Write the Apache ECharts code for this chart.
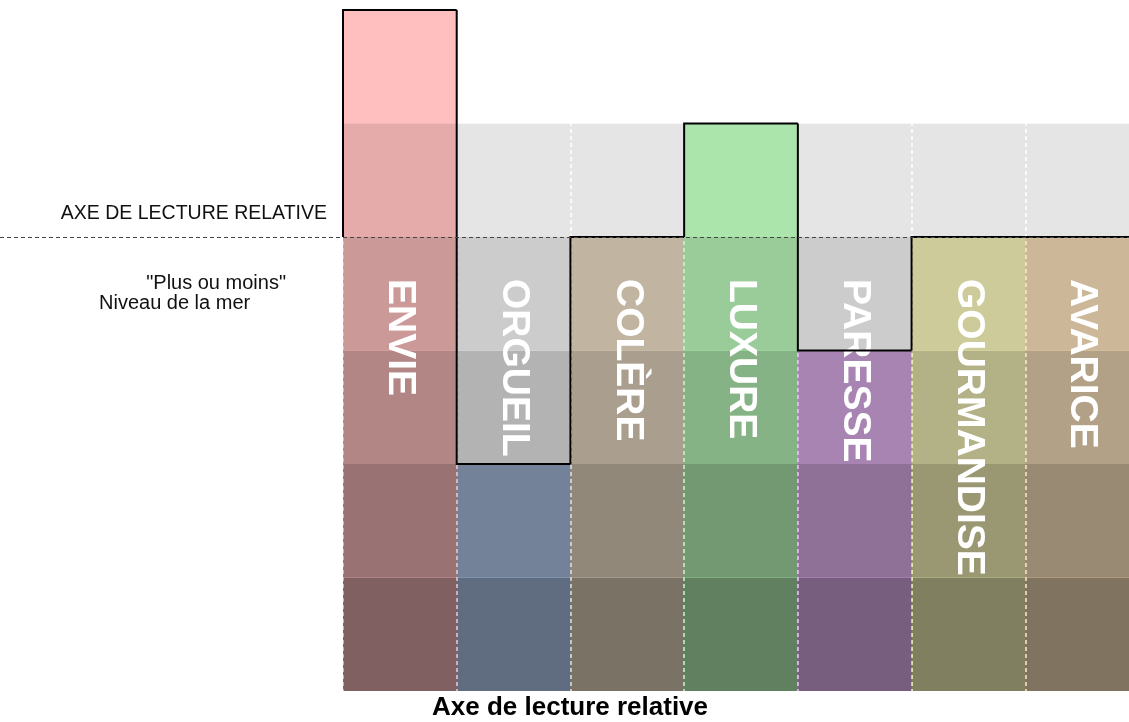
<!DOCTYPE html>
<html>
<head>
<meta charset="utf-8">
<title>Axe de lecture relative</title>
<script src="https://cdn.jsdelivr.net/npm/echarts@6/dist/echarts.min.js"></script>
<style>
  html, body { margin: 0; padding: 0; background: #fff; }
  #chart { width: 1129px; height: 722px; }
</style>
</head>
<body>
<div id="chart"></div>
<script>
  // les sept péchés, de gauche à droite
  const categories = ['ENVIE', 'ORGUEIL', 'COLÈRE', 'LUXURE', 'PARESSE', 'GOURMANDISE', 'AVARICE']
  const levels = [6, 2, 4, 5, 3, 4, 4]
  const seaLevel = 4 // "plus ou moins" niveau de la mer
  const levelMin = 0
  const levelMax = 6

  const sinColors = ['#ffbfbf', '#bfd8ff', '#f2e3ca', '#bfffbf', '#eebcfc', '#fffebf', '#ffe6c0']
  // bandes grises, du bas vers le haut
  const bandColors = ['#808080', '#999999', '#b3b3b3', '#cccccc', '#e5e5e5', '#ffffff']
  const font = '"Liberation Sans", Arial, Helvetica, sans-serif'

  const chart = echarts.init(document.getElementById('chart'))

  chart.setOption({
    animation: false,
    title: {
      text: 'Axe de lecture relative',
      left: 432,
      top: 695,
      padding: 0,
      textStyle: { fontFamily: font, fontSize: 26, fontWeight: 'bold', color: '#000' }
    },
    graphic: [
      {
        type: 'text', x: 327, y: 214,
        style: { text: 'AXE DE LECTURE RELATIVE', font: '19.5px ' + font, fill: '#111', align: 'right', verticalAlign: 'middle' }
      },
      {
        type: 'text', x: 286, y: 283,
        style: { text: '"Plus ou moins"', font: '20px ' + font, fill: '#111', align: 'right', verticalAlign: 'middle' }
      },
      {
        type: 'text', x: 99, y: 303,
        style: { text: 'Niveau de la mer', font: '20px ' + font, fill: '#111', align: 'left', verticalAlign: 'middle' }
      }
    ],
    // la dernière colonne est coupée par le bord droit
    grid: { left: 343, width: 796, top: 10, bottom: 31, outerBoundsMode: 'none', containLabel: false },
    xAxis: {
      type: 'category',
      data: categories,
      boundaryGap: true,
      axisLine: { show: false },
      axisTick: { show: false },
      axisLabel: { show: false },
      splitLine: {
        show: true,
        interval: 0,
        lineStyle: { color: '#fff', width: 1.5, type: [4, 3] }
      }
    },
    yAxis: {
      type: 'value',
      min: levelMin,
      max: levelMax,
      interval: 1,
      axisLine: { show: false },
      axisTick: { show: false },
      axisLabel: { show: false },
      splitLine: { show: false },
      splitArea: { show: true, areaStyle: { color: bandColors } }
    },
    series: [
      {
        type: 'bar',
        barWidth: '100%',
        barCategoryGap: 0,
        blendMode: 'multiply',
        data: levels.map((v, i) => ({ value: v, itemStyle: { color: sinColors[i] } }))
      },
      {
        type: 'custom',
        z: 3,
        clip: false,
        encode: { x: 0, y: 1 },
        data: levels.map((v, i) => [i, v]),
        renderItem(params, api) {
          const i = params.dataIndex
          const prev = i > 0 ? levels[i - 1] : seaLevel
          const w = api.size([1, 0])[0]
          const top = api.coord([i, api.value(1)])
          const from = api.coord([i, prev])
          const base = api.coord([i, seaLevel])
          const x0 = top[0] - w / 2
          const x1 = top[0] + w / 2
          return {
            type: 'group',
            children: [
              {
                type: 'text',
                x: top[0],
                y: base[1] + 42,
                rotation: -Math.PI / 2,
                style: {
                  text: categories[i],
                  fill: '#fff',
                  font: 'bold 39px ' + font,
                  align: 'left',
                  verticalAlign: 'middle'
                }
              },
              {
                type: 'polyline',
                shape: { points: [[x0, from[1]], [x0, top[1]], [x1, top[1]]] },
                style: { stroke: '#000', lineWidth: 2, fill: null }
              }
            ]
          }
        },
        markLine: {
          silent: true,
          symbol: 'none',
          label: { show: false },
          lineStyle: { color: '#444', width: 1, type: [4, 3] },
          data: [[{ x: 0, yAxis: seaLevel }, { x: '100%', yAxis: seaLevel }]]
        }
      }
    ]
  })
</script>
</body>
</html>
